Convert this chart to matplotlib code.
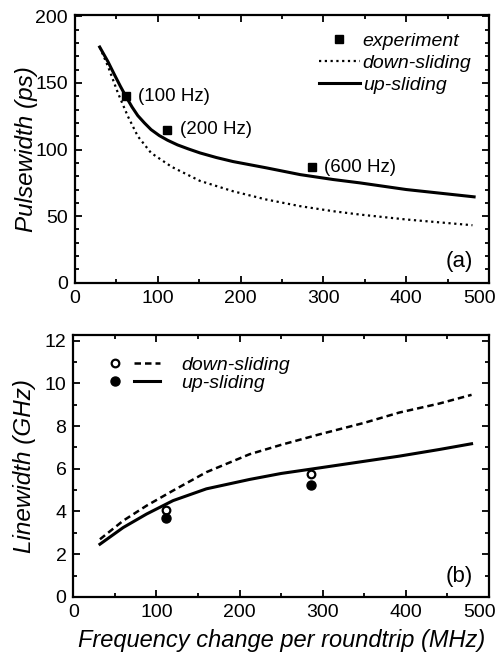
import numpy as np
import matplotlib
matplotlib.use('Agg')
import matplotlib.pyplot as plt
from matplotlib.legend_handler import HandlerTuple
from matplotlib.lines import Line2D
from matplotlib.ticker import MultipleLocator
from matplotlib.transforms import ScaledTranslation

plt.rcParams['font.family'] = ['Liberation Sans', 'DejaVu Sans']

# (a) pulsewidth vs frequency change
pw_up_x = [30, 40, 48, 55, 62, 69, 76, 84, 92, 102, 112, 124, 137, 151, 171, 191, 231, 272, 312, 344, 400, 482]
pw_up = [177, 166, 156, 147.5, 139.5, 132, 125.5, 120, 115, 110.5, 107, 103.5, 100.5, 97.5, 94, 91, 86.3, 81.2, 77.5, 75, 70, 64.5]
pw_down_x = [30, 40, 52, 64, 76, 92, 117, 151, 191, 231, 272, 312, 344, 400, 480]
pw_down = [177, 162.5, 142.5, 125, 110, 97.5, 87, 76.5, 68.7, 62.5, 57.5, 53.7, 51.2, 47.5, 43.2]
exp_x = [61.6, 111.5, 286]
exp_pw = [140, 115, 86.7]
exp_labels = ['(100 Hz)', '(200 Hz)', '(600 Hz)']

# (b) linewidth vs frequency change
lw_x = [32, 60, 88, 120, 160, 212, 250, 296, 350, 392, 440, 479]
lw_up = [2.47, 3.25, 3.88, 4.51, 5.06, 5.5, 5.78, 6.04, 6.35, 6.59, 6.9, 7.17]
lw_down = [2.7, 3.57, 4.27, 4.98, 5.84, 6.68, 7.12, 7.61, 8.15, 8.63, 9.05, 9.46]
lw_exp_x = [111, 286]
lw_exp_down = [4.08, 5.76]
lw_exp_up = [3.68, 5.22]

DOT = (0, (1.0, 1.6))
DASH = (0, (2.6, 1.6))

fig = plt.figure(figsize=(4.99, 6.56), dpi=100)
ax1 = fig.add_axes([0.150, 0.569, 0.830, 0.408])
ax2 = fig.add_axes([0.147, 0.090, 0.833, 0.399])


def style(ax, ymajor, yminor):
    for s in ax.spines.values():
        s.set_linewidth(1.6)
    ax.tick_params(which='both', direction='in', top=True, right=True,
                   labelsize=14, width=1.3)
    ax.tick_params(which='major', length=5, pad=5)
    ax.tick_params(which='minor', length=3)
    ax.xaxis.set_major_locator(MultipleLocator(100))
    ax.xaxis.set_minor_locator(MultipleLocator(50))
    ax.yaxis.set_major_locator(MultipleLocator(ymajor))
    ax.yaxis.set_minor_locator(MultipleLocator(yminor))
    ax.set_xlim(0, 500)
    ax.set_xticks([0, 100, 200, 300, 400, 500])
    last = ax.get_xticklabels()[-1]
    last.set_transform(last.get_transform() +
                       ScaledTranslation(-0.09, 0, fig.dpi_scale_trans))


style(ax1, 50, 10)
ax1.set_ylim(0, 201)
ax1.plot(pw_down_x, pw_down, color='black', lw=1.6, linestyle=DOT)
ax1.plot(pw_up_x, pw_up, color='black', lw=2.2)
ax1.plot(exp_x, exp_pw, 's', color='black', ms=5.5)
for x, y, t in zip(exp_x, exp_pw, exp_labels):
    ax1.annotate(t, (x, y), xytext=(9, 0), textcoords='offset points',
                 fontsize=13.5, va='center', ha='left')
ax1.set_ylabel('Pulsewidth (ps)', fontsize=17.5, style='italic', labelpad=-2)
ax1.text(0.961, 0.04, '(a)', transform=ax1.transAxes, fontsize=16,
         ha='right', va='bottom')
h1 = [Line2D([], [], marker='s', color='black', ls='none', ms=5.5),
      Line2D([], [], color='black', lw=1.6, linestyle=DOT),
      Line2D([], [], color='black', lw=2.2)]
ax1.legend(h1, ['experiment', 'down-sliding', 'up-sliding'],
           loc='upper right', frameon=False, handlelength=2.1,
           handletextpad=0.15, labelspacing=0.22, borderaxespad=0.5,
           borderpad=0.4, prop={'size': 14, 'style': 'italic'})

style(ax2, 2, 1)
ax2.set_ylim(0, 12.25)
ax2.plot(lw_x, lw_down, color='black', lw=1.8, linestyle=DASH)
ax2.plot(lw_x, lw_up, color='black', lw=2.2)
ax2.plot(lw_exp_x, lw_exp_down, 'o', mfc='white', mec='black', mew=1.6, ms=5.5)
ax2.plot(lw_exp_x, lw_exp_up, 'o', color='black', ms=6.5)
ax2.set_ylabel('Linewidth (GHz)', fontsize=17.5, style='italic', labelpad=6)
ax2.set_xlabel('Frequency change per roundtrip (MHz)', fontsize=17,
               style='italic', labelpad=6)
ax2.text(0.961, 0.038, '(b)', transform=ax2.transAxes, fontsize=16,
         ha='right', va='bottom')
h2 = [(Line2D([], [], marker='o', mfc='white', mec='black', mew=1.6, ms=5.5, ls='none'),
       Line2D([], [], color='black', lw=1.8, linestyle=DASH)),
      (Line2D([], [], marker='o', color='black', ms=6.5, ls='none'),
       Line2D([], [], color='black', lw=2.2))]
ax2.legend(h2, ['down-sliding', 'up-sliding'], loc='upper left',
           bbox_to_anchor=(0.05, 0.95), frameon=False, handlelength=3.0,
           handletextpad=1.1, labelspacing=0.05, borderaxespad=0.0,
           borderpad=0.4,
           handler_map={tuple: HandlerTuple(ndivide=None, pad=0.3)},
           prop={'size': 14, 'style': 'italic'})

fig.savefig('out.png', dpi=100)
